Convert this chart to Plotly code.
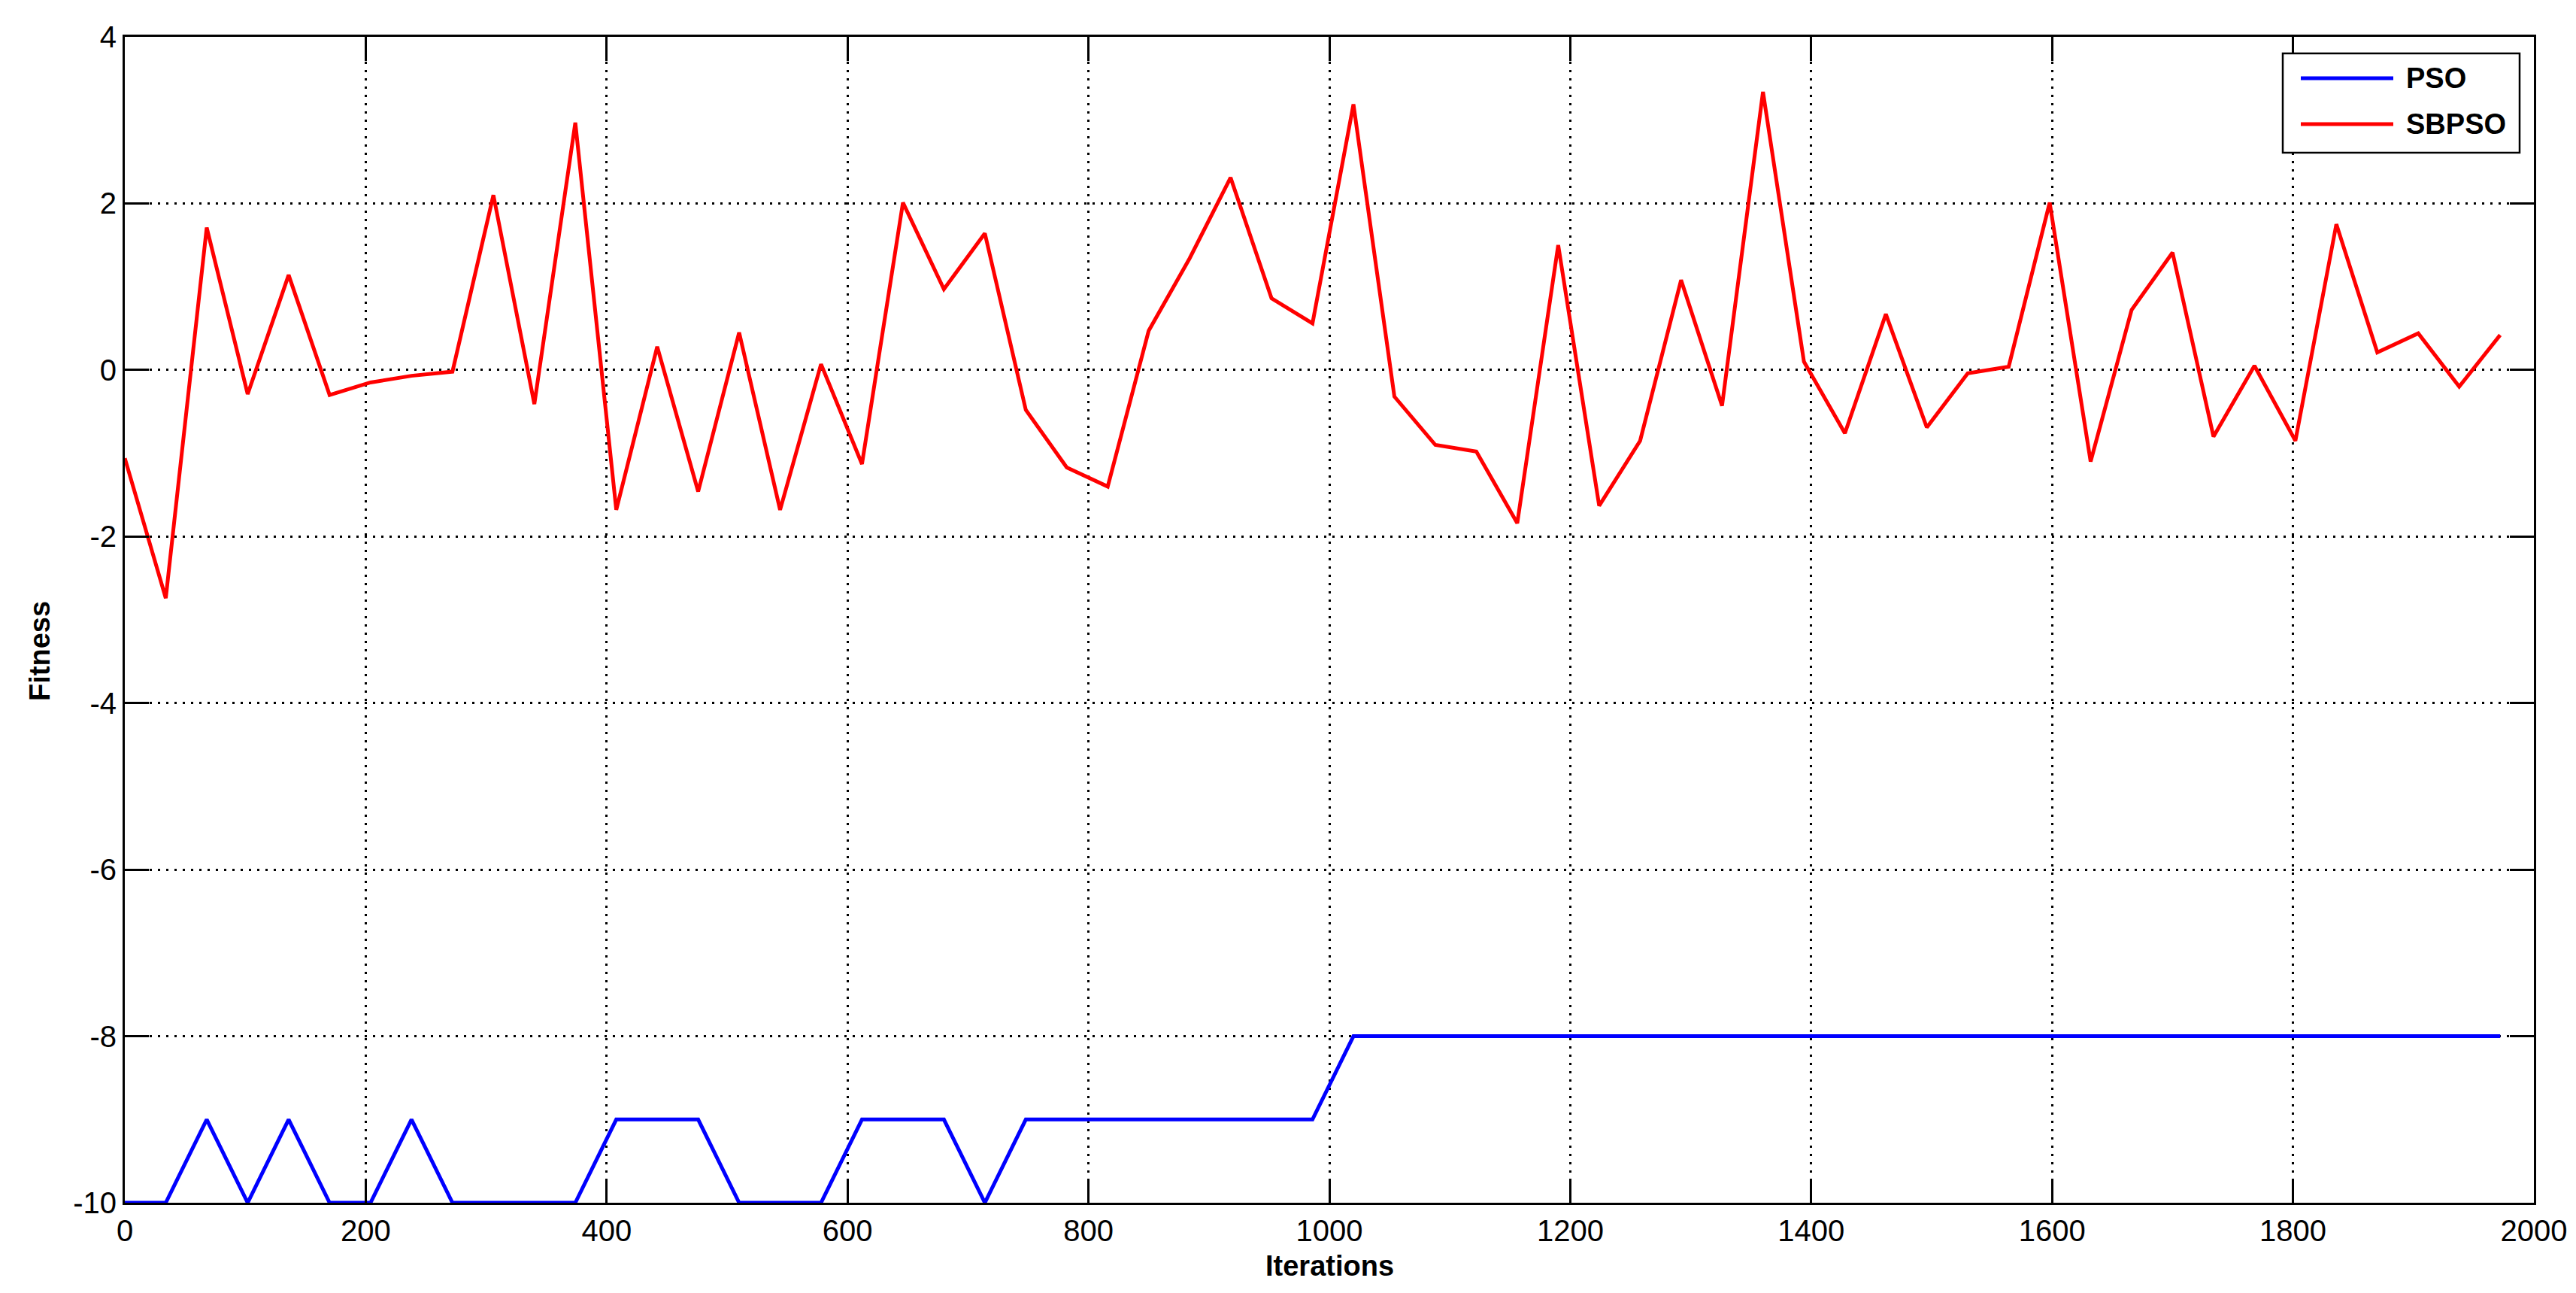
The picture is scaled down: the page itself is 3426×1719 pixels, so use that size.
import plotly.graph_objects as go

iterations = [0, 34, 68, 102, 136, 170, 204, 238, 272, 306, 340, 374, 408, 442, 476,
              510, 544, 578, 612, 646, 680, 714, 748, 782, 816, 850, 884, 918, 952,
              986, 1020, 1054, 1088, 1122, 1156, 1190, 1224, 1258, 1292, 1326, 1360,
              1394, 1428, 1462, 1496, 1530, 1564, 1598, 1632, 1666, 1700, 1734, 1768,
              1802, 1836, 1870, 1904, 1938, 1972]

pso = [-10, -10, -9, -10, -9, -10, -10, -9, -10, -10, -10, -10, -9, -9, -9,
       -10, -10, -10, -9, -9, -9, -10, -9, -9, -9, -9, -9, -9, -9,
       -9, -8, -8, -8, -8, -8, -8, -8, -8, -8, -8, -8,
       -8, -8, -8, -8, -8, -8, -8, -8, -8, -8, -8, -8,
       -8, -8, -8, -8, -8, -8]

sbpso = [-1.06, -2.74, 1.71, -0.29, 1.14, -0.30, -0.15, -0.07, -0.02, 2.10, -0.41,
         2.97, -1.68, 0.28, -1.46, 0.45, -1.68, 0.07, -1.13, 2.01, 0.97, 1.64, -0.48,
         -1.17, -1.40, 0.47, 1.34, 2.31, 0.86, 0.56, 3.19, -0.32, -0.90, -0.98, -1.84,
         1.50, -1.63, -0.85, 1.08, -0.43, 3.34, 0.10, -0.76, 0.67, -0.69, -0.04, 0.04,
         2.01, -1.10, 0.72, 1.41, -0.80, 0.05, -0.85, 1.75, 0.21, 0.44, -0.20, 0.42]

x_ticks = [0, 200, 400, 600, 800, 1000, 1200, 1400, 1600, 1800, 2000]
y_ticks = [-10, -8, -6, -4, -2, 0, 2, 4]
y_tick_labels = ["-10", "-8", "-6", "-4", "-2", "0", "2", "4"]
series_names = ["PSO", "SBPSO"]
series_colors = ["#0000ff", "#ff0000"]

W, H = 3426, 1719
L, R, T, B = 158, 64, 41, 128
FONT = "Liberation Sans, Arial, Helvetica, sans-serif"

fig = go.Figure()
fig.add_trace(go.Scatter(x=iterations, y=pso, mode="lines", name=series_names[0],
                         line=dict(color=series_colors[0], width=5), showlegend=False))
fig.add_trace(go.Scatter(x=iterations, y=sbpso, mode="lines", name=series_names[1],
                         line=dict(color=series_colors[1], width=5), showlegend=False))

axis_common = dict(
    showline=True, linecolor="black", linewidth=3, mirror="allticks",
    ticks="inside", ticklen=32, tickwidth=2.5, tickcolor="black",
    showgrid=True, gridcolor="black", gridwidth=3, griddash="3px,8px",
    zeroline=False, tickfont=dict(family=FONT, size=40, color="black"),
)

fig.update_xaxes(range=[0, 2000], tickvals=x_ticks, **axis_common)
fig.update_yaxes(range=[-10, 4], tickvals=y_ticks, ticktext=y_tick_labels, **axis_common)

# Axis titles
fig.add_annotation(text="<b>Iterations</b>", xref="paper", yref="paper", x=0.5, y=0,
                   yshift=-84, showarrow=False, xanchor="center", yanchor="middle",
                   font=dict(family=FONT, size=38, color="black"))
fig.add_annotation(text="<b>Fitness</b>", xref="paper", yref="paper", x=0, y=0.5,
                   xshift=-113, yshift=-42, showarrow=False, textangle=-90,
                   xanchor="center", yanchor="middle",
                   font=dict(family=FONT, size=38, color="black"))

# Legend (drawn in pixel-equivalent paper coordinates)
pw, ph = W - L - R, H - T - B
def px_x(px):
    return (px - L) / pw
def px_y(py):
    return 1 - (py - T) / ph

fig.add_shape(type="rect", xref="paper", yref="paper",
              x0=px_x(3028), x1=px_x(3343), y0=px_y(195), y1=px_y(63),
              line=dict(color="black", width=2.5), fillcolor="white", layer="above")
legend_rows = [96, 157]
for name, color, ry in zip(series_names, series_colors, legend_rows):
    fig.add_shape(type="line", xref="paper", yref="paper",
                  x0=px_x(3052), x1=px_x(3175), y0=px_y(ry), y1=px_y(ry),
                  line=dict(color=color, width=5), layer="above")
    fig.add_annotation(text="<b>" + name + "</b>", xref="paper", yref="paper",
                       x=px_x(3190), y=px_y(ry), showarrow=False,
                       xanchor="left", yanchor="middle",
                       font=dict(family=FONT, size=38, color="black"))

fig.update_layout(
    width=W, height=H,
    margin=dict(l=L, r=R, t=T, b=B),
    paper_bgcolor="white", plot_bgcolor="white",
    showlegend=False,
    font=dict(family=FONT, size=38, color="black"),
)

fig.write_html("out.html")
